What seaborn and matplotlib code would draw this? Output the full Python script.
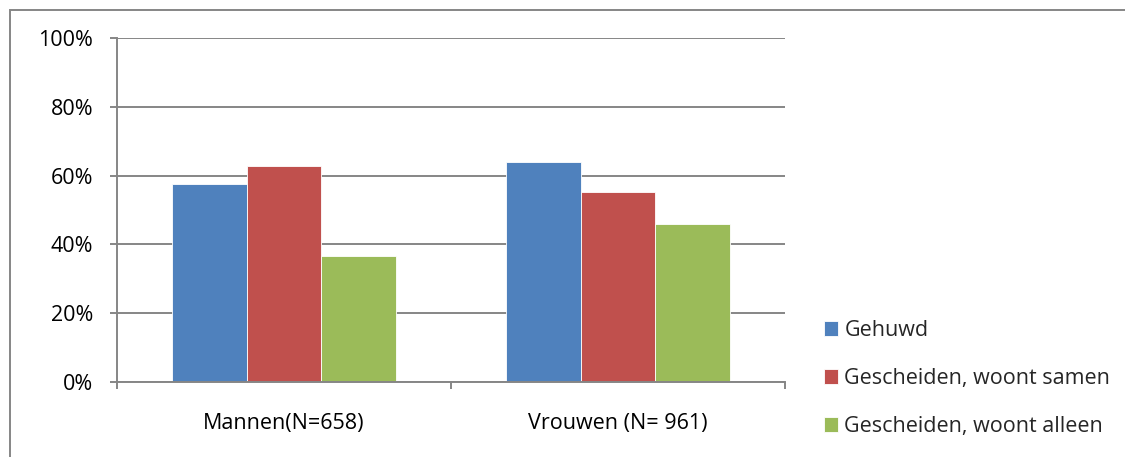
import pandas as pd
import seaborn as sns
import matplotlib.pyplot as plt
from matplotlib.patches import Rectangle
from matplotlib.ticker import FixedLocator, PercentFormatter

# Data
groups = ['Mannen(N=658)', 'Vrouwen (N= 961)']
series = ['Gehuwd', 'Gescheiden, woont samen', 'Gescheiden, woont alleen']
gehuwd = [57.5, 63.9]
samen = [62.8, 55.1]
alleen = [36.6, 45.9]
colors = ['#4F81BD', '#C0504D', '#9BBB59']

df = pd.DataFrame({
    'Groep': groups * 3,
    'Status': [s for s in series for _ in groups],
    'Pct': gehuwd + samen + alleen,
})

sns.set_style('white')
plt.rcParams['font.family'] = ['Open Sans', 'DejaVu Sans']
FS = 15.5

fig = plt.figure(figsize=(11.25, 4.57), dpi=100)
ax = fig.add_axes([117 / 1125, 75 / 457, 668 / 1125, 344 / 457])

sns.barplot(data=df, x='Groep', y='Pct', hue='Status', hue_order=series,
            palette=colors, width=0.67, saturation=1, ax=ax,
            edgecolor='white', linewidth=0.6, errorbar=None)

grid_c = '#868686'
ax.set_ylim(0, 100)
ax.set_xlim(-0.5, 1.5)
ax.set_yticks([0, 20, 40, 60, 80, 100])
ax.yaxis.set_major_formatter(PercentFormatter(decimals=0))
ax.grid(axis='y', color=grid_c, linewidth=1.4)
ax.set_axisbelow(True)
ax.set_xlabel('')
ax.set_ylabel('')

for side in ['top', 'right']:
    ax.spines[side].set_visible(False)
for side in ['left', 'bottom']:
    ax.spines[side].set_color(grid_c)
    ax.spines[side].set_linewidth(1.4)

ax.tick_params(axis='y', which='major', left=True, length=5, width=1.4,
               color=grid_c, pad=12, labelsize=FS, labelcolor='#000000')
ax.tick_params(axis='x', which='major', bottom=False, pad=19,
               labelsize=FS, labelcolor='#000000')
ax.xaxis.set_minor_locator(FixedLocator([-0.5, 0.5, 1.5]))
ax.tick_params(axis='x', which='minor', bottom=True, length=5, width=1.4,
               color=grid_c)

handles, labels = ax.get_legend_handles_labels()
ax.legend(handles, labels, loc='lower left', bbox_to_anchor=(824 / 1125, 20 / 457),
          bbox_transform=fig.transFigure, frameon=False, fontsize=FS,
          handlelength=0.65, handleheight=0.65, handletextpad=0.3,
          labelspacing=1.25, borderaxespad=0, borderpad=0)

# chart area border (extends past the right and bottom edges)
fig.patches.append(Rectangle((10 / 1125, -0.05), 1.2, (447 / 457) + 0.05,
                             transform=fig.transFigure, fill=False,
                             edgecolor=grid_c, linewidth=1.4))

fig.savefig('out.png', dpi=100)
